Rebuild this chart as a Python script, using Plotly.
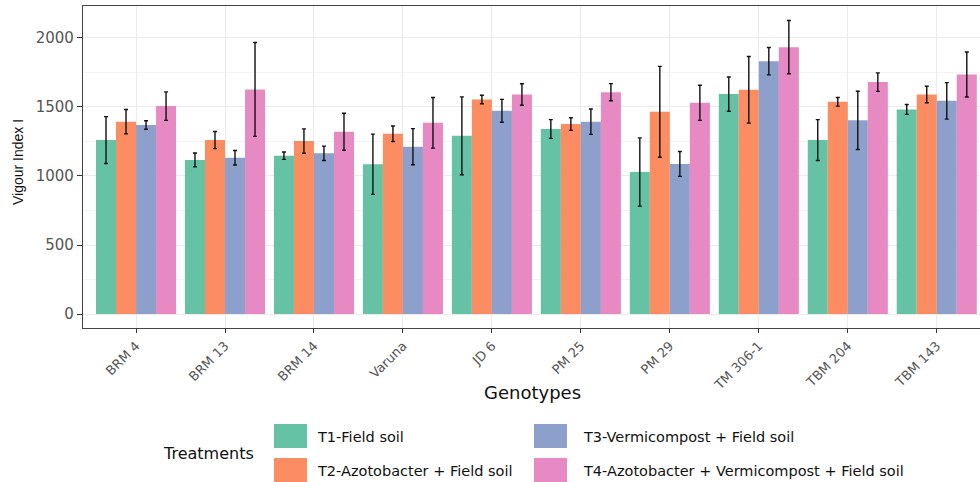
import plotly.graph_objects as go

genotypes = ["BRM 4", "BRM 13", "BRM 14", "Varuna", "JD 6", "PM 25", "PM 29", "TM 306-1", "TBM 204", "TBM 143"]
treatments = ["T1-Field soil", "T2-Azotobacter + Field soil", "T3-Vermicompost + Field soil",
              "T4-Azotobacter + Vermicompost + Field soil"]
colors = ["#66C2A5", "#FC8D62", "#8DA0CB", "#E78AC3"]

t1_mean = [1260, 1116, 1147, 1085, 1291, 1340, 1029, 1593, 1260, 1482]
t1_err = [170, 50, 27, 218, 282, 68, 247, 124, 148, 36]
t2_mean = [1393, 1260, 1253, 1306, 1554, 1376, 1465, 1624, 1537, 1590]
t2_err = [88, 62, 88, 56, 31, 46, 329, 241, 31, 60]
t3_mean = [1369, 1132, 1164, 1212, 1472, 1393, 1087, 1831, 1403, 1544]
t3_err = [31, 53, 52, 131, 83, 92, 90, 99, 211, 132]
t4_mean = [1506, 1627, 1320, 1385, 1590, 1607, 1530, 1933, 1680, 1735]
t4_err = [103, 340, 134, 183, 78, 62, 127, 193, 67, 163]

means = [t1_mean, t2_mean, t3_mean, t4_mean]
errs = [t1_err, t2_err, t3_err, t4_err]

W, H = 980, 482
L, R, T, B = 83, 0, 6, 154
PW, PH = W - L - R, H - T - B


def px_x(px):
    return (px - L) / PW


def px_y(py):
    return (H - B - py) / PH


fig = go.Figure()
for name, m, e, c in zip(treatments, means, errs, colors):
    fig.add_trace(go.Bar(
        x=genotypes, y=m, name=name, marker=dict(color=c, line=dict(width=0)),
        error_y=dict(type="data", array=e, visible=True, color="#111111", thickness=1.4, width=2),
        showlegend=False,
    ))

fig.update_layout(
    width=W, height=H,
    margin=dict(l=L, r=R, t=T, b=B, pad=0),
    paper_bgcolor="white", plot_bgcolor="white",
    barmode="group", bargap=0.1, bargroupgap=0,
    font=dict(family="DejaVu Sans", color="#4D4D4D"),
)
fig.update_xaxes(
    type="category", range=[-0.596, 9.486],
    showgrid=True, gridcolor="#EBEBEB", gridwidth=1,
    showline=True, linecolor="#444444", linewidth=1.3, mirror=True,
    ticks="outside", ticklen=4, tickcolor="#333333", tickwidth=1,
    tickangle=-45, tickfont=dict(family="DejaVu Sans", size=13, color="#555555"),
)
fig.update_yaxes(
    range=[-101, 2231], tickvals=[0, 500, 1000, 1500, 2000],
    showgrid=True, gridcolor="#EBEBEB", gridwidth=1,
    minor=dict(tickvals=[250, 750, 1250, 1750], showgrid=True, gridcolor="#F3F3F3", gridwidth=0.6, ticks=""),
    showline=True, linecolor="#444444", linewidth=1.3, mirror=False,
    ticks="outside", ticklen=5, tickcolor="#333333", tickwidth=1,
    tickfont=dict(family="DejaVu Sans", size=15, color="#555555"),
    zeroline=False,
)

annotations = [
    dict(text="Vigour Index I", x=px_x(18), y=px_y(162), xref="paper", yref="paper",
         textangle=-90, showarrow=False, xanchor="center", yanchor="middle",
         font=dict(family="Liberation Sans", size=14, color="#111111")),
    dict(text="Genotypes", x=px_x(532), y=px_y(392), xref="paper", yref="paper",
         showarrow=False, xanchor="center", yanchor="middle",
         font=dict(family="DejaVu Sans", size=18, color="#111111")),
    dict(text="Treatments", x=px_x(161), y=px_y(453), xref="paper", yref="paper",
         showarrow=False, xanchor="left", yanchor="middle",
         font=dict(family="DejaVu Sans", size=16, color="#111111")),
]
shapes = []
key_x = [274, 534]
key_y = [424, 458]
for i, (name, c) in enumerate(zip(treatments, colors)):
    col, row = i // 2, i % 2
    x0, y0 = key_x[col], key_y[row]
    shapes.append(dict(type="rect", xref="paper", yref="paper",
                       x0=px_x(x0), x1=px_x(x0 + 33), y0=px_y(y0), y1=px_y(y0 + 24),
                       fillcolor=c, line=dict(width=0)))
    annotations.append(dict(text=name, x=px_x(x0 + 41 + (6 if col == 1 else 0)), y=px_y(y0 + 13),
                            xref="paper", yref="paper", showarrow=False,
                            xanchor="left", yanchor="middle",
                            font=dict(family="DejaVu Sans", size=14.5, color="#111111")))
fig.update_layout(annotations=annotations, shapes=shapes)

fig.write_html("out.html")
